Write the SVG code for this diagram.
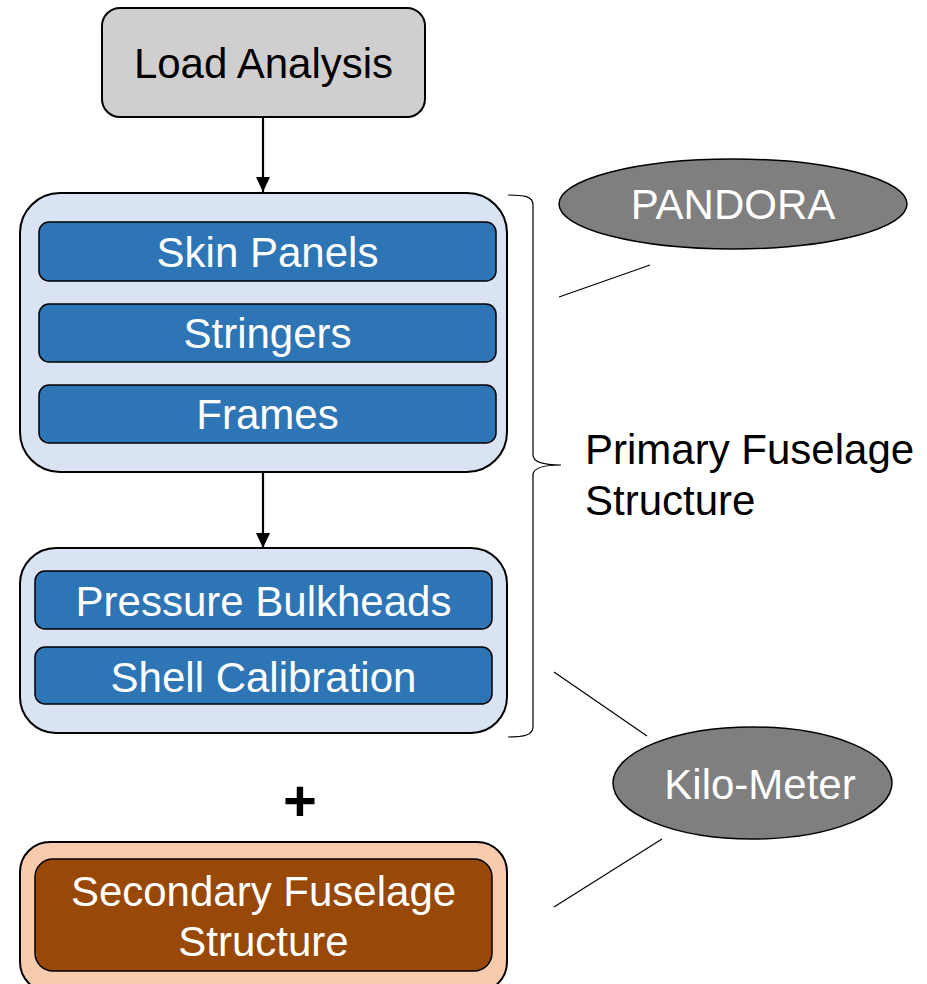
<svg xmlns="http://www.w3.org/2000/svg" width="927" height="984" viewBox="0 0 927 984">
<defs>
<style>
text{font-family:"Liberation Sans",Arial,sans-serif;font-size:42px;}
.w{fill:#ffffff;text-anchor:middle;}
.k{fill:#000000;}
.bar{fill:#2e75b6;stroke:#000;stroke-width:1.5;}
.grp{fill:#dae3f3;stroke:#000;stroke-width:2;}
.ell{fill:#7f7f7f;stroke:#000;stroke-width:1.5;}
.thin{stroke:#000;stroke-width:1.2;fill:none;}
.arr{stroke:#000;stroke-width:2.2;fill:none;marker-end:url(#ah);}
</style>
<marker id="ah" viewBox="0 0 15 14" refX="15" refY="7" markerWidth="15" markerHeight="14" markerUnits="userSpaceOnUse" orient="auto">
<path d="M0,0 L15,7 L0,14 z" fill="#000"/>
</marker>
</defs>
<rect width="927" height="984" fill="#ffffff"/>

<g id="load-analysis">
<rect x="102" y="8" width="323" height="109" rx="18" fill="#d0cece" stroke="#000" stroke-width="2"/>
<text x="263.5" y="78" class="k" text-anchor="middle">Load Analysis</text>
</g>

<g id="primary-group-1">
<rect x="20" y="193" width="487" height="279" rx="40" class="grp"/>
<g id="skin-panels">
<rect x="39" y="222" width="457" height="59" rx="10" class="bar"/>
<text x="267.5" y="267" class="w">Skin Panels</text>
</g>
<g id="stringers">
<rect x="39" y="304" width="457" height="58" rx="10" class="bar"/>
<text x="267.5" y="348" class="w">Stringers</text>
</g>
<g id="frames">
<rect x="39" y="385" width="457" height="58" rx="10" class="bar"/>
<text x="267.5" y="429" class="w">Frames</text>
</g>
</g>

<g id="primary-group-2">
<rect x="20" y="548" width="487" height="185" rx="36" class="grp"/>
<g id="pressure-bulkheads">
<rect x="35" y="571" width="457" height="58" rx="10" class="bar"/>
<text x="263.5" y="616" class="w">Pressure Bulkheads</text>
</g>
<g id="shell-calibration">
<rect x="35" y="647" width="457" height="57" rx="10" class="bar"/>
<text x="263.5" y="692" class="w">Shell Calibration</text>
</g>
</g>

<g id="plus">
<text x="300" y="821" class="k" text-anchor="middle" style="font-size:58px;font-weight:bold">+</text>
</g>

<g id="secondary-fuselage">
<rect x="20" y="842" width="487" height="150" rx="30" fill="#f8cbad" stroke="#000" stroke-width="2"/>
<rect x="35" y="859" width="457" height="112" rx="18" fill="#984807" stroke="#000" stroke-width="1.5"/>
<text x="263.5" y="906" class="w">Secondary Fuselage</text>
<text x="263.5" y="956" class="w">Structure</text>
</g>

<g id="primary-label">
<path d="M508,195 C524,195 533,196 533,205 L533,455 C533,462 545,465 561,465 C545,465 533,468 533,475 L533,727 C533,735 524,737 508,737" class="thin" stroke-width="1.5"/>
<text x="585" y="464" class="k">Primary Fuselage</text>
<text x="585" y="515" class="k">Structure</text>
</g>

<g id="pandora">
<ellipse cx="733" cy="204" rx="174" ry="45" class="ell"/>
<text x="733" y="219" class="w">PANDORA</text>
</g>

<g id="kilo-meter">
<ellipse cx="752.5" cy="783" rx="139.5" ry="56" class="ell"/>
<text x="760" y="799" class="w">Kilo-Meter</text>
</g>

<g id="connectors">
<line x1="263" y1="117" x2="263" y2="192" class="arr"/>
<line x1="263" y1="472" x2="263" y2="548" class="arr"/>
<line x1="559" y1="297" x2="650" y2="265" class="thin"/>
<line x1="554" y1="672" x2="647" y2="736" class="thin"/>
<line x1="662" y1="839" x2="554" y2="907" class="thin"/>
</g>
</svg>
